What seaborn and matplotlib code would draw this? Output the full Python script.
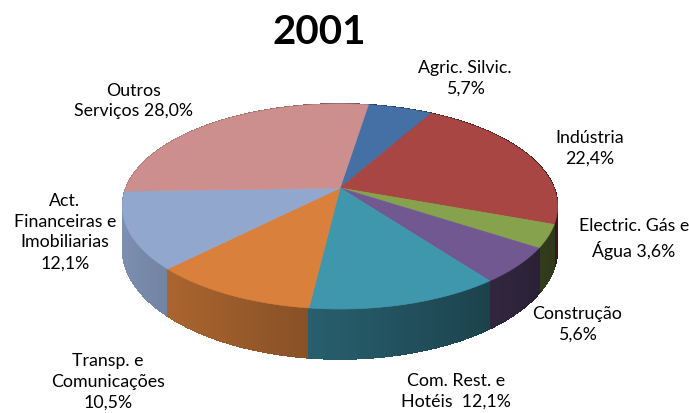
import numpy as np
import matplotlib
matplotlib.use("Agg")
import matplotlib.pyplot as plt
import seaborn as sns
from matplotlib.path import Path
from matplotlib.transforms import Transform
from matplotlib.collections import PolyCollection
from matplotlib.colors import to_rgb

# ---------------- data ----------------
title = "2001"
sectors = ["Agric. Silvic.", "Indústria", "Electric. Gás e Água", "Construção",
           "Com. Rest. e Hotéis", "Transp. e Comunicações",
           "Act. Financeiras e Imobiliarias", "Outros Serviços"]
shares = [5.7, 22.4, 3.6, 5.6, 12.1, 10.5, 12.1, 28.0]
label_templates = ["Agric. Silvic.\n{}", "Indústria\n{}", "Electric. Gás e\nÁgua {}",
                   "Construção\n{}", "Com. Rest. e\nHotéis  {}", "Transp. e\nComunicações\n{}",
                   "Act.\nFinanceiras e\nImobiliarias\n{}", "Outros\nServiços {}"]
colors = ["#4470A5", "#A84644", "#86A24C", "#715890",
          "#3F97AE", "#D8803C", "#91A7CE", "#CD8E8E"]

# ---------------- layout / style ----------------
label_pos = [(465, 78), (590, 148), (634, 239), (577, 324),
             (456, 391), (108, 382), (65, 232), (134, 101)]
CX, CY, A, B, K, H = 340.0, 189.0, 214.0, 99.2, 0.18, 41.0
START = 81

sns.set_theme(style="white")
plt.rcParams['font.family'] = ['Lato', 'DejaVu Sans']


class Persp(Transform):
    """Perspective view of a tilted unit disk, at height h (in depth units)."""
    input_dims = output_dims = 2
    is_separable = False
    has_inverse = False

    def __init__(self, h=0.0):
        super().__init__()
        self.h = h

    def transform_non_affine(self, pts):
        pts = np.atleast_2d(np.asarray(pts, float))
        u, v = pts[:, 0], pts[:, 1]
        w = 1 + K * v
        X = CX + A * u / w
        Y = CY - (B * v + H * self.h) / w
        return np.column_stack([X, Y])

    def transform_path_non_affine(self, path):
        out = []
        codes = []
        for seg, code in path.iter_bezier():
            cp = seg.control_points
            if code == Path.MOVETO:
                out.append(cp[0]); codes.append(Path.MOVETO)
                continue
            if len(cp) == 2:
                t = np.linspace(0, 1, 12)[1:]
            else:
                t = np.linspace(0, 1, 40)[1:]
            p = seg(t)
            out.extend(p); codes.extend([Path.LINETO] * len(p))
        out = np.array(out)
        return Path(self.transform_non_affine(out), codes)


fig = plt.figure(figsize=(6.89, 4.14), dpi=100)
ax = fig.add_axes([0, 0, 1, 1])

# side walls (drawn first, covered by the top face)
cum = START - np.concatenate([[0], np.cumsum(shares)]) * 3.6
polys, fcs, order = [], [], []
top = Persp(0.0)
bot = Persp(-1.0)
for i, col in enumerate(colors):
    a1, a2 = cum[i], cum[i + 1]
    n = max(2, int(abs(a1 - a2) / 1.0) + 1)
    angs = np.radians(np.linspace(a1, a2, n))
    base = np.array(to_rgb(col))
    for j in range(n - 1):
        pa = np.array([[np.cos(angs[j]), np.sin(angs[j])], [np.cos(angs[j + 1]), np.sin(angs[j + 1])]])
        t = top.transform_non_affine(pa)
        b = bot.transform_non_affine(pa)
        polys.append([t[0], t[1], b[1], b[0]])
        um = pa[:, 0].mean()
        vm = pa[:, 1].mean()
        f = np.clip(0.60 - 0.27 * um, 0.34, 0.9)
        fcs.append(np.clip(base * f, 0, 1))
        order.append(-vm)
idx = np.argsort(order)
polys = [polys[k] for k in idx]
fcs = [fcs[k] for k in idx]
ax.add_collection(PolyCollection(polys, facecolors=fcs, edgecolors=fcs, linewidths=0.5,
                                 antialiaseds=False))

# top face
wedges, _ = ax.pie(shares, colors=colors, startangle=START, counterclock=False,
                   radius=1, center=(0, 0),
                   wedgeprops=dict(linewidth=0.5, antialiased=True))
for w, c in zip(wedges, colors):
    w.set_edgecolor(c)
    w.set_transform(Persp(0.0) + ax.transData)

ax.set_aspect('auto')
ax.set_xlim(0, 689)
ax.set_ylim(414, 0)
ax.axis('off')

# labels
for tmpl, val, (x, y) in zip(label_templates, shares, label_pos):
    txt = tmpl.format(f"{val:.1f}".replace(".", ",") + "%")
    ax.text(x, y, txt, ha='center', va='center', multialignment='center',
            fontsize=12.8, color='black', linespacing=1.38)

ax.text(319, 32, title, ha='center', va='center', fontsize=29, fontweight='bold', color='black')

fig.savefig("out.png", dpi=100)
